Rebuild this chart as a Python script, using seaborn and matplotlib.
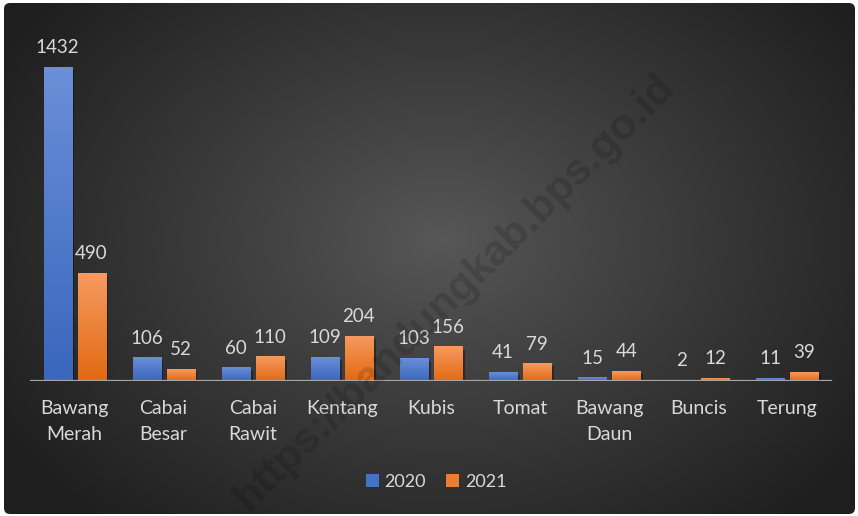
import numpy as np
import pandas as pd
import matplotlib
matplotlib.use("Agg")
import matplotlib.pyplot as plt
import seaborn as sns
from matplotlib.patches import FancyBboxPatch, Patch
from matplotlib.colors import LinearSegmentedColormap
import matplotlib.patheffects as pe

categories = ["Bawang\nMerah", "Cabai\nBesar", "Cabai\nRawit", "Kentang", "Kubis",
              "Tomat", "Bawang\nDaun", "Buncis", "Terung"]
years = ["2020", "2021"]
values_2020 = [1432, 106, 60, 109, 103, 41, 15, 2, 11]
values_2021 = [490, 52, 110, 204, 156, 79, 44, 12, 39]

df = pd.DataFrame({
    "Komoditas": categories * 2,
    "Tahun": [years[0]] * len(categories) + [years[1]] * len(categories),
    "Nilai": values_2020 + values_2021,
})

plt.rcParams["font.family"] = ["Lato", "DejaVu Sans"]
TXT = "#d9d9d9"
W, H = 858, 516

fig = plt.figure(figsize=(W / 100, H / 100), dpi=100)
fig.patch.set_facecolor("white")

# background radial gradient with rounded frame
bg = fig.add_axes([0, 0, 1, 1])
bg.set_axis_off()
bg.set_xlim(0, W)
bg.set_ylim(H, 0)
yy, xx = np.mgrid[0:H, 0:W]
cx, cy = 440, 240
d = np.sqrt(((xx - cx) / 520.0) ** 2 + ((yy - cy) / 380.0) ** 2)
d = np.clip(d, 0, 1) ** 0.9
c0 = np.array([0x58, 0x58, 0x58]) / 255.0
c1 = np.array([0x1e, 0x1e, 0x1e]) / 255.0
img = c0[None, None, :] * (1 - d[..., None]) + c1[None, None, :] * d[..., None]
im = bg.imshow(img, extent=[0, W, H, 0], aspect="auto", zorder=0)
frame = FancyBboxPatch((4, 3), 851, 511, boxstyle="round,pad=0,rounding_size=6",
                       transform=bg.transData, facecolor="none", edgecolor="none")
bg.add_patch(frame)
im.set_clip_path(frame)

# main axes
ymax = 1600
px_per_unit = 314 / 1432
ax_h = ymax * px_per_unit
ax = fig.add_axes([30 / W, (H - 381) / H, 802 / W, ax_h / H])
ax.set_facecolor("none")

palette = {"2020": "#4472c4", "2021": "#ed7d31"}
sns.barplot(data=df, x="Komoditas", y="Nilai", hue="Tahun", palette=palette,
            width=0.764, gap=0.176, ax=ax, legend=False, saturation=1)

ax.set_xlim(-0.5, 8.5)
ax.set_ylim(0, ymax)

grads = {
    0: LinearSegmentedColormap.from_list("b", ["#3a66bd", "#6a8fd8"]),
    1: LinearSegmentedColormap.from_list("o", ["#e26a12", "#f69a60"]),
}
grad = np.linspace(1, 0, 64).reshape(-1, 1)
for i, cont in enumerate(ax.containers):
    for p in cont.patches:
        h = p.get_height()
        if h <= 0:
            continue
        p.set_path_effects([pe.SimplePatchShadow(offset=(2, -2), shadow_rgbFace="black", alpha=0.35),
                            pe.Normal()])
        x0 = p.get_x()
        w = p.get_width()
        ax.imshow(grad, extent=[x0, x0 + w, 0, h], aspect="auto", cmap=grads[i],
                  vmin=0, vmax=1, zorder=p.get_zorder() + 0.1, origin="upper")
    ax.bar_label(cont, labels=[str(v) for v in (values_2020 if i == 0 else values_2021)],
                 padding=8, color=TXT, fontsize=13.5)

ax.set_xlim(-0.5, 8.5)
ax.set_ylim(0, ymax)
ax.set_aspect("auto")

for s in ax.spines.values():
    s.set_visible(False)
ax.axhline(0, color="#a6a6a6", lw=1.6, zorder=5)
ax.set_yticks([])
ax.set_xlabel("")
ax.set_ylabel("")
ax.tick_params(axis="x", length=0, pad=14, labelsize=14, labelcolor=TXT)
for t in ax.get_xticklabels():
    t.set_linespacing(1.6)
    t.set_verticalalignment("top")

# legend
handles = [Patch(facecolor=palette[y], edgecolor="none") for y in years]
fig.legend(handles, years, loc="center", bbox_to_anchor=(436 / W, 1 - 482 / H), ncol=2,
           frameon=False, handlelength=0.75, handleheight=0.75, handletextpad=0.3,
           columnspacing=1.1, fontsize=13, labelcolor=TXT)

# watermark
fig.text(455 / W, 1 - 292 / H, "https://bandungkab.bps.go.id", rotation=44.7,
         rotation_mode="anchor", ha="center", va="center", fontsize=31,
         fontweight="bold", color="black", alpha=0.14, family="Liberation Sans", zorder=20)

fig.savefig("out.png", dpi=100, facecolor=fig.get_facecolor())
